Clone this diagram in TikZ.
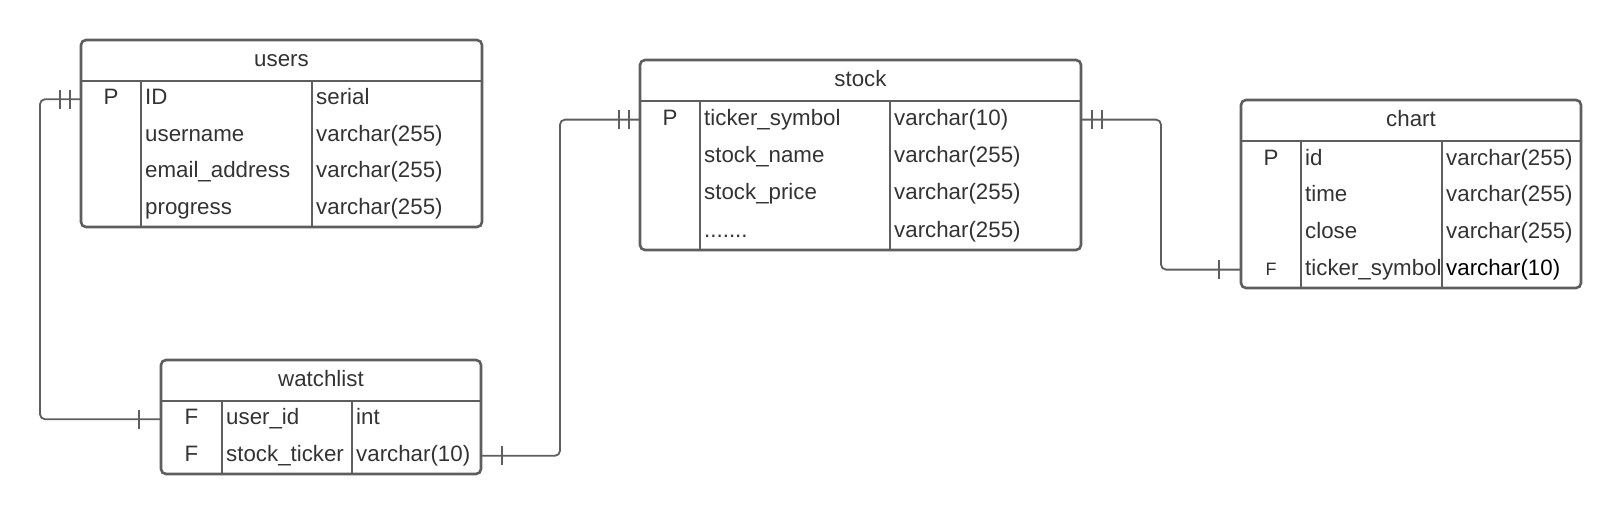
\documentclass[tikz,border=0pt]{standalone}
\usepackage{fontspec}
\setmainfont{Liberation Sans}
\usepackage{xcolor}
\usepackage{tikz}
\usetikzlibrary{decorations.markings}

\definecolor{edge}{HTML}{5E5E5E}
\definecolor{ink}{HTML}{333333}

\begin{document}
\begin{tikzpicture}[x=1pt, y=-1pt]
		
		\tikzset{
			tbl/.style={draw=edge, line width=2.6pt, rounded corners=5pt, inner sep=0pt, outer sep=0pt},
			grid/.style={draw=edge, line width=2.6pt},
			cell/.style={anchor=west, inner sep=0pt, text=ink, font=\fontsize{22.3pt}{26pt}\selectfont, text height=16pt, text depth=4.6pt},
			key/.style={cell, anchor=center},
			conn/.style={draw=edge, line width=1.8pt, rounded corners=5pt},
			bar/.style={draw=edge, line width=1.8pt},
			onestart/.style={postaction={decorate, decoration={markings,
				mark=at position 21pt with {\draw[bar] (0pt,-9.5pt) -- (0pt,9.5pt);}}}},
			twostart/.style={postaction={decorate, decoration={markings,
				mark=at position 11pt with {\draw[bar] (0pt,-9.5pt) -- (0pt,9.5pt);},
				mark=at position 21pt with {\draw[bar] (0pt,-9.5pt) -- (0pt,9.5pt);}}}},
			oneend/.style={postaction={decorate, decoration={markings,
				mark=at position -22pt with {\draw[bar] (0pt,-9.5pt) -- (0pt,9.5pt);}}}},
			twoend/.style={postaction={decorate, decoration={markings,
				mark=at position -11pt with {\draw[bar] (0pt,-9.5pt) -- (0pt,9.5pt);},
				mark=at position -21pt with {\draw[bar] (0pt,-9.5pt) -- (0pt,9.5pt);}}}},
		}
		
		\useasboundingbox (0,0) rectangle (1622,514);
		
		% users
		\node [tbl, minimum width=401pt, minimum height=187pt] (users) at (281.5,133.5) {};
		\draw [grid] (81,81) -- (482,81);
		\draw [grid] (141,81) -- (141,227);
		\draw [grid] (312,81) -- (312,227);
		\node [key] (users-title) at (281.5,60.5) {users};
		\node [key] (users-pk) at (111,99.25) {P};
		\node [cell] (users-id) at (145,99.25) {ID};
		\node [cell] (users-name) at (145,135.75) {username};
		\node [cell] (users-mail) at (145,172.25) {email\_address};
		\node [cell] (users-prog) at (145,208.75) {progress};
		\node [cell] (users-idtype) at (316,99.25) {serial};
		\node [cell] (users-nametype) at (316,135.75) {varchar(255)};
		\node [cell] (users-mailtype) at (316,172.25) {varchar(255)};
		\node [cell] (users-progtype) at (316,208.75) {varchar(255)};
		
		% watchlist
		\node [tbl, minimum width=320pt, minimum height=114pt] (watch) at (321,417) {};
		\draw [grid] (161,401) -- (481,401);
		\draw [grid] (222,401) -- (222,474);
		\draw [grid] (352,401) -- (352,474);
		\node [key] (watch-title) at (321,380.5) {watchlist};
		\node [key] (watch-fk1) at (191.5,419.25) {F};
		\node [key] (watch-fk2) at (191.5,455.75) {F};
		\node [cell] (watch-uid) at (226,419.25) {user\_id};
		\node [cell] (watch-ticker) at (226,455.75) {stock\_ticker};
		\node [cell] (watch-uidtype) at (356,419.25) {int};
		\node [cell] (watch-tickertype) at (356,455.75) {varchar(10)};
		
		% stock
		\node [tbl, minimum width=441pt, minimum height=190pt] (stock) at (860.5,155) {};
		\draw [grid] (640,101) -- (1081,101);
		\draw [grid] (700,101) -- (700,250);
		\draw [grid] (890,101) -- (890,250);
		\node [key] (stock-title) at (860.5,80.5) {stock};
		\node [key] (stock-pk) at (670,119.6) {P};
		\node [cell] (stock-ticker) at (704,119.6) {ticker\_symbol};
		\node [cell] (stock-name) at (704,156.9) {stock\_name};
		\node [cell] (stock-price) at (704,194.1) {stock\_price};
		\node [cell] (stock-more) at (704,231.4) {.......};
		\node [cell] (stock-tickertype) at (894,119.6) {varchar(10)};
		\node [cell] (stock-nametype) at (894,156.9) {varchar(255)};
		\node [cell] (stock-pricetype) at (894,194.1) {varchar(255)};
		\node [cell] (stock-moretype) at (894,231.4) {varchar(255)};
		
		% chart
		\node [tbl, minimum width=340pt, minimum height=188pt] (chart) at (1411,194) {};
		\draw [grid] (1241,141) -- (1581,141);
		\draw [grid] (1301,141) -- (1301,288);
		\draw [grid] (1442,141) -- (1442,288);
		\node [key] (chart-title) at (1411,120.5) {chart};
		\node [key] (chart-pk) at (1271,159.4) {P};
		\node [key, font=\fontsize{18pt}{22pt}\selectfont] (chart-fk) at (1271,269.6) {F};
		\node [cell] (chart-id) at (1305,159.4) {id};
		\node [cell] (chart-time) at (1305,196.1) {time};
		\node [cell] (chart-close) at (1305,232.9) {close};
		\node [cell] (chart-ticker) at (1305,269.6) {ticker\_symbol};
		\node [cell] (chart-idtype) at (1446,159.4) {varchar(255)};
		\node [cell] (chart-timetype) at (1446,196.1) {varchar(255)};
		\node [cell] (chart-closetype) at (1446,232.9) {varchar(255)};
		\node [cell, text=black] (chart-tickertype) at (1446,269.6) {varchar(10)};
		
		% relations
		\draw [conn, twostart, oneend] (users.west |- users-id) -- ++(-41,0) |- (watch.west |- watch-uid);
		\draw [conn, onestart, twoend] (watch.east |- watch-ticker) -- ++(79,0) |- (stock.west |- stock-ticker);
		\draw [conn, twostart, oneend] (stock.east |- stock-ticker) -- ++(80,0) |- (chart.west |- chart-ticker);
		
\end{tikzpicture}
\end{document}
